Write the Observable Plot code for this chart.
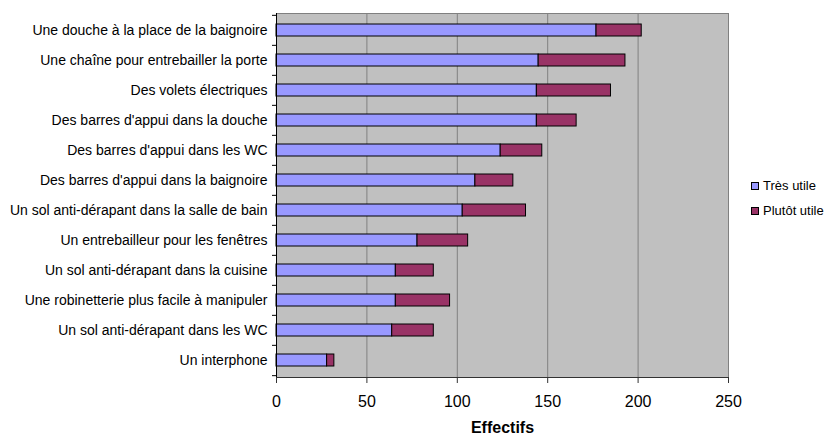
<!DOCTYPE html>
<html>
<head>
<meta charset="utf-8">
<script src="https://cdn.jsdelivr.net/npm/d3@7"></script>
<script src="https://cdn.jsdelivr.net/npm/@observablehq/plot@0.6"></script>
<style>
  html, body { margin: 0; padding: 0; background: #fff; }
  #wrap { position: relative; width: 830px; height: 438px; font-family: "Liberation Sans", Arial, sans-serif; }
  #legend { position: absolute; left: 751px; top: 173px; font-size: 13px; color: #000; }
  .item { display: flex; align-items: center; height: 25px; }
  .sw { width: 6px; height: 6px; border: 1px solid #000; margin-right: 4px; }
</style>
</head>
<body>
<div id="wrap"><div id="legend"></div></div>
<script>
const categories = [
  "Une douche à la place de la baignoire",
  "Une chaîne pour entrebailler la porte",
  "Des volets électriques",
  "Des barres d'appui dans la douche",
  "Des barres d'appui dans les WC",
  "Des barres d'appui dans la baignoire",
  "Un sol anti-dérapant dans la salle de bain",
  "Un entrebailleur pour les fenêtres",
  "Un sol anti-dérapant dans la cuisine",
  "Une robinetterie plus facile à manipuler",
  "Un sol anti-dérapant dans les WC",
  "Un interphone"
];
const tresUtile   = [177, 145, 144, 144, 124, 110, 103, 78, 66, 66, 64, 28];
const plutotUtile = [25, 48, 41, 22, 23, 21, 35, 28, 21, 30, 23, 4];
const series = ["Très utile", "Plutôt utile"];
const colors = ["#9999FF", "#993366"];
const xTicks = [0, 50, 100, 150, 200, 250];
const xTitle = "Effectifs";

const data = categories.flatMap((c, i) => [
  {cat: c, serie: series[0], value: tresUtile[i]},
  {cat: c, serie: series[1], value: plutotUtile[i]}
]);

const W = 830, H = 438, mT = 13, mB = 61, mL = 276, mR = 102;
const step = (H - mT - mB) / categories.length;

const chart = Plot.plot({
  width: W, height: H,
  marginTop: mT, marginBottom: mB, marginLeft: mL, marginRight: mR,
  style: {fontFamily: "'Liberation Sans', Arial, sans-serif", background: "white", color: "#000"},
  x: {domain: [0, 250], label: null},
  y: {domain: categories, paddingInner: 0.6, paddingOuter: 0.3, label: null},
  color: {domain: series, range: colors},
  marks: [
    Plot.frame({fill: "#c0c0c0", stroke: "#808080"}),
    Plot.gridX(xTicks, {stroke: "#808080", strokeOpacity: 1}),
    Plot.barX(data, Plot.stackX({y: "cat", x: "value", fill: "serie", stroke: "#000", strokeWidth: 1})),
    Plot.ruleX([0], {stroke: "#000"}),
    Plot.frame({anchor: "bottom", stroke: "#333"}),
    Plot.axisX({ticks: xTicks, tickSize: 6, tickPadding: 12, fontSize: 16, label: null, stroke: "#333"}),
    Plot.axisY({tickSize: 0, tickPadding: 9, fontSize: 14, label: null}),
    Plot.axisY({tickSize: 4, tickFormat: () => "", label: null, dy: -step / 2}),
    Plot.axisY({ticks: [categories[categories.length - 1]], tickSize: 4, tickFormat: () => "", label: null, dy: step / 2}),
    Plot.text([xTitle], {frameAnchor: "bottom", dy: 55, fontWeight: "bold", fontSize: 16})
  ]
});
document.getElementById("wrap").prepend(chart);

const legend = document.getElementById("legend");
series.forEach((s, i) => {
  const it = document.createElement("div");
  it.className = "item";
  const sw = document.createElement("div");
  sw.className = "sw";
  sw.style.background = colors[i];
  it.appendChild(sw);
  it.appendChild(document.createTextNode(s));
  legend.appendChild(it);
});
</script>
</body>
</html>
